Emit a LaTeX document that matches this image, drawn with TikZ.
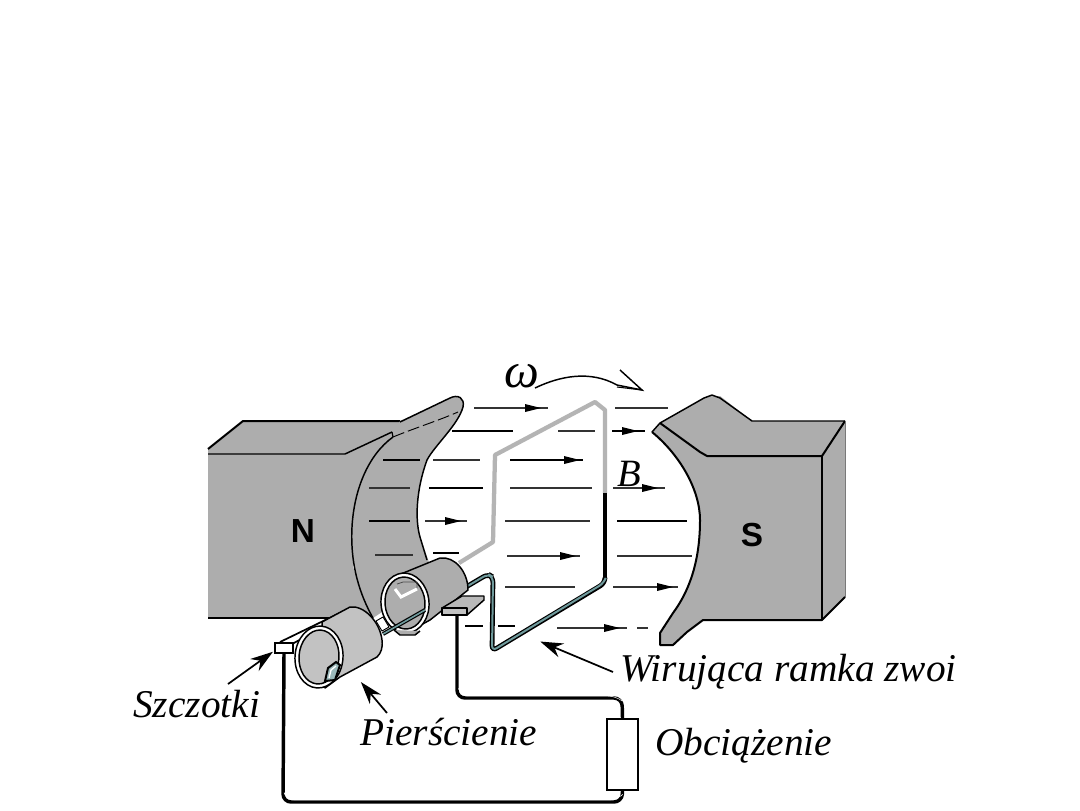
\documentclass[tikz,border=0pt]{standalone}
\usepackage{fontspec}
\setmainfont{Liberation Serif}
\setsansfont{Liberation Sans}
\usetikzlibrary{arrows.meta}
\definecolor{polegray}{HTML}{ADADAD}
\definecolor{lightcyl}{HTML}{C2C2C2}
\definecolor{loopgray}{HTML}{B4B4B4}
\definecolor{teal2}{HTML}{6F9A9C}
\tikzset{
  edge/.style={draw=black,line width=1.1pt,line join=round},
  body/.style={edge,fill=polegray},
  fieldline/.style={draw=black!80,line width=0.9pt},
  fieldthick/.style={draw=black,line width=1.9pt},
  lab/.style={font=\fontsize{29.5}{32}\selectfont\itshape,anchor=base west,inner sep=0pt},
  pole/.style={font=\fontsize{25}{28}\selectfont\sffamily\bfseries,inner sep=0pt},
  pointer/.style={draw=black,line width=1.3pt,-{Stealth[length=17pt,width=11pt]},shorten >=1pt},
  wire/.style={draw=black,line width=2.6pt,rounded corners=6pt},
  wirein/.style={draw=white,line width=0.35pt,rounded corners=6pt},
}
\begin{document}
\begin{tikzpicture}[x=0.75pt,y=-0.75pt]
\useasboundingbox (0,0) rectangle (1080,810);
\fill[white] (0,0) rectangle (1080,810);

% N magnet
\path[fill=polegray] (208,449) -- (243,421) -- (402,421) -- (393,437) -- (370,467) -- (352,527) -- (353,567) -- (367,607) -- (373,618) -- (208,618) -- cycle;
\draw[edge,line width=1.5pt] (208,449) -- (243,421) -- (400,421);
\draw[edge] (208,454) -- (345,454) -- (392,432);
\draw[edge,line width=1.5pt] (208,618) -- (330,618);
% N pole piece
\path[fill=polegray] (400,421) -- (450,398) .. controls (458,394) and (465,398) .. (463,407) .. controls (458,425) and (435,445) .. (427,460) .. controls (416,490) and (415,520) .. (420,537) -- (430,565) -- (400,600) -- (373,618) .. controls (360,595) and (350,565) .. (352,527) .. controls (354,490) and (368,455) .. (393,437) -- cycle;
\draw[edge] (400,422) -- (450,398) .. controls (458,394) and (465,398) .. (463,407) .. controls (458,425) and (435,445) .. (427,460) .. controls (416,490) and (415,520) .. (420,537) -- (427,560);
\draw[edge] (393,437) .. controls (368,455) and (354,490) .. (352,527) .. controls (350,565) and (360,595) .. (373,618);
\draw[edge,line width=0.9pt] (392,432) -- (393,437);
\draw[edge,line width=0.7pt,dash pattern=on 9pt off 3pt] (393,437) .. controls (415,428) and (440,420) .. (458,412);

% S magnet
\path[body,draw=none] (660,423) -- (708,396) -- (720,396) -- (752,421) -- (845,421) -- (845,597) -- (822,620) -- (703,620) -- (687,632) -- (673,645) -- (660,645) -- (660,633) -- (673,613) .. controls (690,590) and (700,560) .. (700,520) .. controls (700,490) and (680,455) .. (652,432) -- cycle;
\draw[edge] (652,432) -- (660,423) -- (704,398) -- (712,395) -- (720,398) -- (752,421) -- (845,421);
\draw[edge,line width=1.5pt] (660,423) -- (700,452) -- (707,456) -- (822,456) -- (845,421);
\draw[edge,line width=1.5pt] (822,456) -- (822,620);
\draw[edge,line width=1.5pt] (845,597) -- (822,620) -- (703,620) -- (687,632) -- (673,645) -- (660,645) -- (660,633) -- (673,613) .. controls (690,590) and (700,560) .. (700,520) .. controls (700,490) and (680,455) .. (652,432);
\draw[draw=polegray!70!black,line width=0.6pt] (845,421) -- (845,597);
\node[pole] (npole) at (303,531) {N};
\node[pole] (spole) at (752,535) {S};

% Field lines
\foreach \a/\b/\y in {474/548/408, 615/668/408, 433/480/460, 369/410/488, 510/592/488, 613/665/488,
  425/467/521, 505/590/521, 375/413/555, 507/580/556, 617/692/556, 505/575/587, 613/678/587,
  558/595/431, 557/627/628, 637/648/628}
  {\draw[fieldline] (\a,\y) -- (\b,\y);}
\foreach \a/\b/\y in {452/513/431, 612/645/431, 383/420/460, 510/583/460, 429/483/488, 369/410/521,
  617/687/521, 433/459/553, 465/483/626, 498/515/626}
  {\draw[fieldthick] (\a,\y) -- (\b,\y);}
\foreach \x/\y in {533/408, 630/431, 572/460, 650/488, 453/521, 568/556, 665/587, 612/628}
  {\fill[black] (\x-8,\y-4) -- (\x+8,\y) -- (\x-8,\y+4) -- cycle;}

% Rotating loop
\draw[draw=loopgray,line width=3.2pt,line join=round] (459,563) -- (493,542) -- (495,455) -- (595,402) -- (605,410) -- (605,493);
\draw[draw=black,line width=3.2pt] (605,493) -- (605,580);
\draw[draw=black,line width=3.6pt,rounded corners=4pt] (605,578) -- (605,583) -- (492,651) -- (493,577) -- (488,574) -- (466,587);
\draw[draw=teal2,line width=1.5pt,rounded corners=4pt] (605,580) -- (604,583) -- (492,651) -- (493,577) -- (488,574) -- (466,587);

% Upper cylinder
\draw[body] (396,576) -- (440,558) .. controls (455,556) and (468,572) .. (468,590) -- (430,620) -- (408,632) -- cycle;
\draw[edge,fill=white,rotate around={5:(405,603)}] (405,603) ellipse (24 and 30);
\draw[edge,fill=polegray,rotate around={5:(405,603)}] (405,603) ellipse (20 and 26);
\draw[draw=white,line width=2.2pt,line join=miter] (395,589) -- (401,597) -- (417,589);
\draw[draw=black!70,line width=0.6pt] (397,584) -- (403,582) -- (417,582) -- (417,588);
\draw[edge,fill=polegray] (394,630) -- (400,635) -- (415,635) -- (420,631);
% axle
\draw[draw=black,line width=3pt] (383,634) -- (425,610);
\draw[draw=teal2,line width=1.2pt] (383,634) -- (425,610);
\draw[edge,line width=0.7pt,fill=white] (376,621) -- (383,617) -- (389,627) -- (382,631) -- cycle;
% Brush 1
\draw[edge,fill=polegray!85!white] (442,608) -- (462,596) -- (484,596) -- (484,600) -- (467,615) -- (442,615) -- cycle;
\draw[edge,fill=lightcyl] (442,608) rectangle (467,615);
% Lower cylinder
\draw[draw=black,line width=1.3pt] (280,642) -- (350,608);
\draw[draw=black,line width=1.3pt] (292,644) -- (322,628);
\draw[edge,fill=lightcyl] (322,622) -- (350,607) .. controls (364,605) and (380,622) .. (382,640) .. controls (383,648) and (381,653) .. (377,657) -- (340,677) -- (325,688) -- cycle;
\draw[edge,fill=white,rotate around={-4:(319,657)}] (319,657) ellipse (24 and 31);
\draw[edge,fill=lightcyl,rotate around={-4:(319,657)}] (319,657) ellipse (20 and 27);
\draw[draw=black,line width=1.5pt,fill=teal2!70!white] (325,681) -- (328,668) -- (336,662) -- (340,665) -- (335,680) -- cycle;
\draw[draw=white,line width=1pt] (329,678) -- (331,670) -- (336,666);

% External circuit
\node[draw=black,line width=1.5pt,fill=white,minimum width=23.25pt,minimum height=53.25pt,inner sep=0pt] (load) at (622.5,754.5) {};
\node[draw=black,line width=0.8pt,fill=white,minimum width=13.5pt,minimum height=7.5pt,inner sep=0pt] (brushb) at (284,648) {};
\coordinate (brusha) at (457,615);
\draw[wire] (brusha) -- (457,698) -- (622,698) -- (load.north);
\draw[wire] (brushb.south) -- (283,802) -- (622,802) -- (load.south);
\draw[wirein] (459,690) -- (460,696) -- (616,696) -- (621,700);
\draw[wirein] (285,795) -- (287,800) -- (617,800) -- (621,796);

% Labels
\node[lab] (szcz) at (133,717) {Szczotki};
\node[lab] (pier) at (360,745) {Pierścienie};
\node[lab] (wir) at (620,681) {Wirująca ramka zwoi};
\node[lab] (obc) at (655,755) {Obciążenie};
\node[font=\fontsize{37}{40}\selectfont\itshape,inner sep=0pt] (omega) at (522,376) {ω};
\node[font=\fontsize{29}{32}\selectfont\itshape,inner sep=0pt] (bfield) at (629,474) {B};

% Pointers
\coordinate (ps) at (228,684); \coordinate (pse) at (274,651);
\coordinate (pp) at (387,713); \coordinate (ppe) at (360,681);
\coordinate (pw) at (613,672); \coordinate (pwe) at (539,641);
\draw[pointer] (ps) -- (pse);
\draw[pointer] (pp) -- (ppe);
\draw[pointer] (pw) -- (pwe);

% Rotation arrow
\coordinate (rs) at (535,388); \coordinate (re) at (642,390);
\draw[draw=black,line width=1.1pt] (rs) .. controls (560,376) and (590,370) .. (617,385) -- (re) -- (620,370);
\draw[draw=black,line width=0.8pt] (617,387) -- (re);
\end{tikzpicture}
\end{document}
